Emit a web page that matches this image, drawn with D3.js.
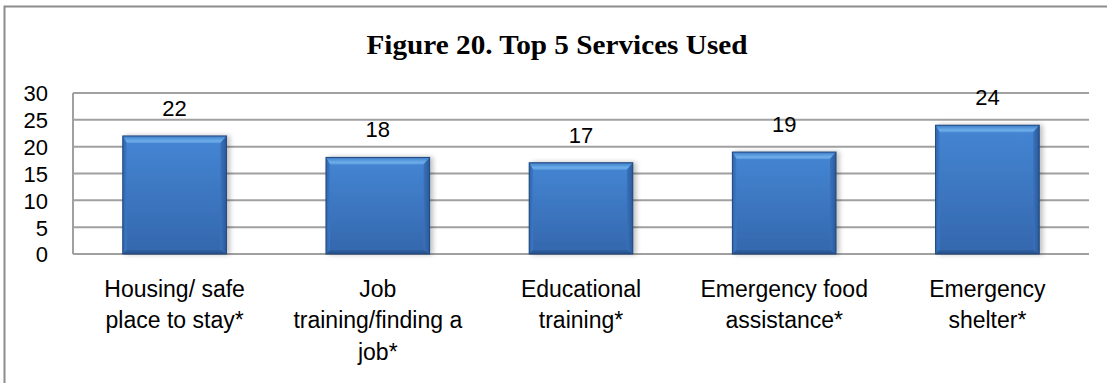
<!DOCTYPE html>
<html>
<head>
<meta charset="utf-8">
<script src="https://cdn.jsdelivr.net/npm/d3@7"></script>
<style>
  html, body { margin: 0; padding: 0; background: #fff; }
  svg { display: block; }
</style>
</head>
<body>
<svg id="chart" width="1107" height="383"></svg>
<script>
// Top 5 services used (counts)
const categories = [
  "Housing/ safe\nplace to stay*",
  "Job\ntraining/finding a\njob*",
  "Educational\ntraining*",
  "Emergency food\nassistance*",
  "Emergency\nshelter*"
];
const values = [22, 18, 17, 19, 24];
const yTicks = [0, 5, 10, 15, 20, 25, 30];
const title = "Figure 20. Top 5 Services Used";

const svg = d3.select("#chart");
const W = 1107, H = 383;
const plot = { left: 73, right: 1089, top: 93, bottom: 254 };

// outer chart frame (extends past the right and bottom edges)
svg.append("rect")
  .attr("x", 4.5).attr("y", 6.5)
  .attr("width", W + 10).attr("height", H + 10)
  .attr("fill", "#fff").attr("stroke", "#8c8c8c").attr("stroke-width", 2);

// gradients for bar faces
const defs = svg.append("defs");
function grad(id, stops, vertical = true) {
  const g = defs.append("linearGradient").attr("id", id)
    .attr("x1", 0).attr("y1", 0)
    .attr("x2", vertical ? 0 : 1).attr("y2", vertical ? 1 : 0);
  stops.forEach(([o, c]) => g.append("stop").attr("offset", o).attr("stop-color", c));
}
grad("face", [[0, "#4586d4"], [1, "#3467ad"]]);
grad("topBevel", [[0, "#3c7bc8"], [0.7, "#6caee9"], [1, "#5b9ade"]]);
grad("botBevel", [[0, "#30609f"], [1, "#24508a"]]);
grad("leftBevel", [[0, "#2f66ad"], [1, "#3c78c4"]], false);
grad("rightBevel", [[0, "#3a72bb"], [1, "#2a5a9a"]], false);
const shadow = defs.append("filter").attr("id", "shadow")
  .attr("x", "-20%").attr("y", "-20%").attr("width", "140%").attr("height", "140%");
shadow.append("feGaussianBlur").attr("in", "SourceAlpha").attr("stdDeviation", 2.5);
shadow.append("feOffset").attr("dx", 3).attr("dy", 0).attr("result", "b");
shadow.append("feComponentTransfer").append("feFuncA").attr("type", "linear").attr("slope", 0.25);
const merge = shadow.append("feMerge");
merge.append("feMergeNode");
merge.append("feMergeNode").attr("in", "SourceGraphic");

const x = d3.scaleBand()
  .domain(d3.range(categories.length))
  .range([plot.left, plot.right])
  .paddingInner(0.49).paddingOuter(0.245);
const y = d3.scaleLinear().domain([0, 30]).range([plot.bottom, plot.top]);

// title
svg.append("text")
  .attr("x", 557).attr("y", 53.5)
  .attr("text-anchor", "middle")
  .attr("font-family", "'Liberation Serif', 'DejaVu Serif', serif")
  .attr("font-weight", "bold")
  .attr("font-size", 27)
  .attr("textLength", 381)
  .attr("lengthAdjust", "spacingAndGlyphs")
  .attr("fill", "#000")
  .text(title);

// horizontal gridlines
svg.append("g").selectAll("line").data(yTicks).join("line")
  .attr("x1", plot.left).attr("x2", plot.right)
  .attr("y1", d => y(d)).attr("y2", d => y(d))
  .attr("stroke", "#a0a0a0").attr("stroke-width", 2);

// value axis line
svg.append("line")
  .attr("x1", plot.left).attr("x2", plot.left)
  .attr("y1", plot.top).attr("y2", plot.bottom)
  .attr("stroke", "#a0a0a0").attr("stroke-width", 2);

// y tick labels
const yAxis = d3.axisLeft(y).tickValues(yTicks).tickSize(0).tickPadding(0);
const yG = svg.append("g").attr("transform", "translate(48,0)").call(yAxis);
yG.select(".domain").remove();
yG.selectAll("text")
  .attr("font-family", "'Liberation Sans', Arial, sans-serif")
  .attr("font-size", 22).attr("fill", "#000").attr("dy", "0.36em");

// bars with bevel
const bev = 7, side = 4, bot = 4;
const bars = svg.append("g").selectAll("g").data(values).join("g")
  .attr("filter", "url(#shadow)");
bars.each(function(v, i) {
  const g = d3.select(this);
  const x0 = x(i), x1 = x(i) + x.bandwidth();
  const y0 = y(v), y1 = y(0);
  g.append("rect").attr("x", x0).attr("y", y0)
    .attr("width", x1 - x0).attr("height", y1 - y0).attr("fill", "url(#face)");
  const poly = (pts, fill) => g.append("polygon")
    .attr("points", pts.map(p => p.join(",")).join(" ")).attr("fill", fill);
  poly([[x0, y0], [x1, y0], [x1 - side - 2, y0 + bev], [x0 + side, y0 + bev]], "url(#topBevel)");
  poly([[x0, y0], [x0 + side, y0 + bev], [x0 + side, y1 - bot], [x0, y1]], "url(#leftBevel)");
  poly([[x1, y0], [x1, y1], [x1 - side - 2, y1 - bot], [x1 - side - 2, y0 + bev]], "url(#rightBevel)");
  poly([[x0, y1], [x0 + side, y1 - bot], [x1 - side - 2, y1 - bot], [x1, y1]], "url(#botBevel)");
  g.append("rect").attr("x", x0).attr("y", y0)
    .attr("width", x1 - x0).attr("height", y1 - y0)
    .attr("fill", "none").attr("stroke", "#23467a").attr("stroke-width", 1);
});

// value labels
svg.append("g").selectAll("text").data(values).join("text")
  .attr("x", (d, i) => x(i) + x.bandwidth() / 2)
  .attr("y", d => y(d) - 20)
  .attr("text-anchor", "middle")
  .attr("font-family", "'Liberation Sans', Arial, sans-serif")
  .attr("font-size", 22).attr("fill", "#000")
  .text(d => d);

// category labels (multi-line)
const catG = svg.append("g").selectAll("text").data(categories).join("text")
  .attr("text-anchor", "middle")
  .attr("font-family", "'Liberation Sans', Arial, sans-serif")
  .attr("font-size", 23).attr("fill", "#000");
catG.each(function(c, i) {
  const t = d3.select(this);
  const cx = x(i) + x.bandwidth() / 2;
  c.split("\n").forEach((line, k) => {
    t.append("tspan").attr("x", cx).attr("y", 296.5 + k * 31.6).text(line);
  });
});
</script>
</body>
</html>
